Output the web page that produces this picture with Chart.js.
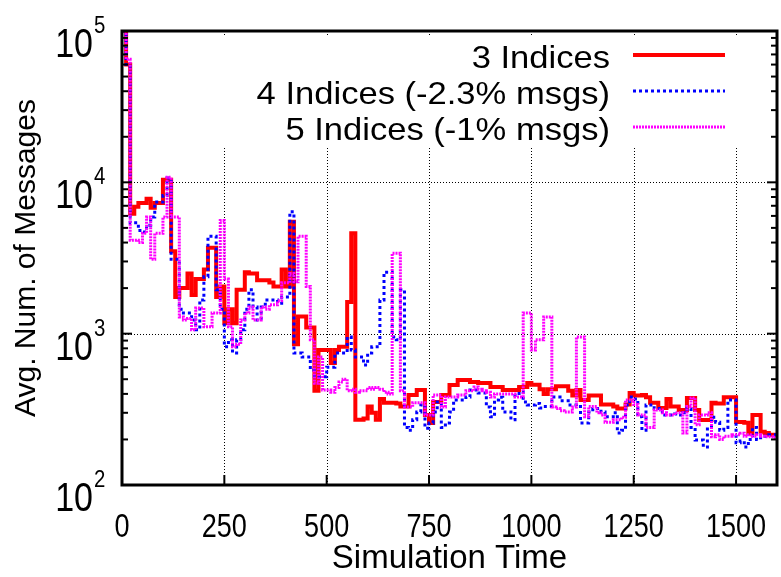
<!DOCTYPE html>
<html>
<head>
<meta charset="utf-8">
<script src="https://cdn.jsdelivr.net/npm/chart.js@4/dist/chart.umd.min.js"></script>
<style>
  html, body { margin: 0; padding: 0; background: #fff; }
  #wrap { width: 781px; height: 577px; }
</style>
</head>
<body>
<div id="wrap"><canvas id="c" width="781" height="577"></canvas></div>
<script>
// Sample times (start of each step)
const times = [
  0, 10, 20, 30, 40, 50, 60, 70, 80, 90,
  100, 110, 120, 130, 140, 150, 160, 170, 180, 190,
  200, 210, 220, 230, 240, 250, 260, 270, 280, 290,
  300, 310, 320, 330, 340, 350, 360, 370, 380, 390,
  400, 410, 420, 430, 440, 450, 460, 470, 480, 490,
  500, 510, 520, 530, 540, 550, 560, 570, 580, 590,
  600, 610, 620, 630, 640, 650, 660, 670, 680, 690,
  700, 710, 720, 730, 740, 750, 760, 770, 780, 790,
  800, 810, 820, 830, 840, 850, 860, 870, 880, 890,
  900, 910, 920, 930, 940, 950, 960, 970, 980, 990,
  1000, 1010, 1020, 1030, 1040, 1050, 1060, 1070, 1080, 1090,
  1100, 1110, 1120, 1130, 1140, 1150, 1160, 1170, 1180, 1190,
  1200, 1210, 1220, 1230, 1240, 1250, 1260, 1270, 1280, 1290,
  1300, 1310, 1320, 1330, 1340, 1350, 1360, 1370, 1380, 1390,
  1400, 1410, 1420, 1430, 1440, 1450, 1460, 1470, 1480, 1490,
  1500, 1510, 1520, 1530, 1540, 1550, 1560, 1570, 1580, 1590
];
const endTime = 1600;

// Average number of messages, 3 indices
const idx3 = [
  100000, 60000, 6200, 6900, 7300, 7300, 7800, 6800, 7300, 7300,
  10400, 10400, 3500, 1750, 2000, 2000, 2500, 1800, 2300, 2300,
  2650, 3700, 3700, 1750, 2050, 1170, 1450, 1170, 1950, 1950,
  2550, 2500, 2500, 2250, 2250, 2250, 2180, 2050, 2050, 2650,
  2050, 5500, 850, 1300, 1300, 1100, 1100, 420, 780, 780,
  780, 640, 780, 820, 820, 1620, 4600, 270, 270, 275,
  330, 300, 270, 370, 350, 350, 350, 345, 330, 330,
  393, 393, 425, 425, 290, 257, 354, 354, 393, 393,
  458, 458, 494, 494, 494, 480, 480, 472, 472, 472,
  444, 444, 444, 425, 425, 425, 425, 444, 444, 472,
  460, 460, 430, 400, 430, 430, 450, 450, 450, 420,
  390, 425, 365, 365, 390, 390, 390, 340, 340, 340,
  330, 320, 320, 340, 406, 390, 390, 393, 380, 350,
  350, 323, 323, 370, 330, 330, 313, 313, 376, 376,
  313, 269, 269, 269, 350, 345, 345, 380, 380, 380,
  261, 261, 258, 221, 290, 290, 225, 221, 215, 215
];

// Average number of messages, 4 indices
const idx4 = [
  100000, 60000, 5400, 5400, 4800, 4700, 5200, 5900, 7400, 7400,
  8200, 10700, 3100, 3100, 1450, 1370, 1370, 1230, 1060, 1670,
  2380, 4400, 4400, 1950, 1450, 820, 910, 745, 910, 1060,
  1450, 1950, 1500, 1230, 1500, 1670, 1670, 1670, 1590, 1750,
  1750, 6400, 745, 745, 700, 700, 576, 520, 520, 520,
  600, 600, 745, 745, 745, 950, 780, 700, 700, 620,
  745, 820, 820, 1670, 2550, 2550, 950, 910, 1950, 240,
  230, 270, 304, 338, 237, 257, 304, 354, 240, 257,
  304, 365, 365, 365, 381, 425, 425, 405, 405, 328,
  282, 365, 380, 304, 304, 270, 390, 412, 354, 338,
  338, 345, 323, 330, 330, 381, 381, 360, 360, 338,
  338, 330, 257, 257, 304, 320, 320, 304, 282, 282,
  300, 221, 230, 338, 381, 370, 282, 230, 338, 338,
  320, 320, 290, 290, 290, 295, 290, 300, 320, 240,
  198, 198, 178, 240, 280, 260, 230, 240, 365, 365,
  190, 195, 178, 200, 240, 200, 210, 210, 215, 215
];

// Average number of messages, 5 indices
const idx5 = [
  100000, 65000, 4150, 4150, 4000, 4600, 5900, 3100, 4600, 4600,
  5900, 10800, 5900, 5900, 1290, 1230, 1260, 1060, 1480, 1480,
  1110, 1110, 1370, 1370, 5600, 2300, 1110, 820, 850, 1230,
  1370, 1500, 1230, 1230, 1500, 1450, 1550, 1550, 1650, 2170,
  2170, 2500, 2200, 4400, 4400, 2050, 910, 470, 700, 425,
  425, 410, 440, 480, 500, 420, 430, 410, 420, 420,
  440, 430, 440, 430, 410, 400, 3400, 3400, 420, 328,
  328, 350, 350, 350, 290, 290, 393, 393, 328, 381,
  381, 381, 393, 393, 420, 420, 444, 430, 420, 410,
  381, 400, 400, 400, 400, 400, 381, 381, 1370, 1370,
  780, 910, 910, 1290, 1290, 328, 320, 310, 304, 304,
  328, 950, 950, 282, 330, 330, 300, 290, 260, 260,
  270, 270, 280, 365, 365, 340, 290, 290, 240, 240,
  313, 313, 300, 290, 290, 300, 300, 221, 330, 376,
  250, 290, 290, 300, 208, 215, 200, 210, 210, 215,
  215, 220, 210, 215, 210, 215, 210, 208, 208, 205
];

const seriesNames = ['3 Indices', '4 Indices (-2.3% msgs)', '5 Indices (-1% msgs)'];
const xTickValues = [0, 250, 500, 750, 1000, 1250, 1500];
const yDecades = [100, 1000, 10000, 100000];
const yExponents = ['2', '3', '4', '5'];

const FONT = '"Liberation Sans", Arial, Helvetica, sans-serif';

function toPoints(vals) {
  const pts = times.map((t, i) => ({ x: t, y: vals[i] }));
  pts.push({ x: endTime, y: vals[vals.length - 1] });
  return pts;
}

function drawText(ctx, text, x, y, size, sx, align) {
  ctx.save();
  ctx.font = size + 'px ' + FONT;
  ctx.textBaseline = 'alphabetic';
  ctx.textAlign = align;
  ctx.translate(x, y);
  ctx.scale(sx, 1);
  ctx.fillStyle = '#000';
  ctx.fillText(text, 0, 0);
  ctx.restore();
}

const styles = [
  { color: '#ff0000', width: 4, dash: [] },
  { color: '#0000ff', width: 3, dash: [3, 3] },
  { color: '#ff00ff', width: 3, dash: [2, 1] }
];

// Key box geometry
const legendBox = { left: 215, top: 36, right: 745, bottom: 148 };
const legendTextRight = 610;
const legendLine = { x0: 633, x1: 725 };
const legendRowY = [55, 91, 127];

const framePlugin = {
  id: 'frame',
  beforeDatasetsDraw(chart) {
    const { ctx, chartArea: a, scales: { x, y } } = chart;
    ctx.save();
    ctx.strokeStyle = '#000';
    ctx.lineWidth = 1;
    ctx.setLineDash([1, 2]);
    xTickValues.forEach(v => {
      if (v === 0) return;
      const px = Math.round(x.getPixelForValue(v)) + 0.5;
      ctx.beginPath(); ctx.moveTo(px, a.top); ctx.lineTo(px, a.bottom); ctx.stroke();
    });
    yDecades.forEach(v => {
      if (v === 100 || v === 100000) return;
      const py = Math.round(y.getPixelForValue(v)) + 0.5;
      ctx.beginPath(); ctx.moveTo(a.left, py); ctx.lineTo(a.right, py); ctx.stroke();
    });
    ctx.setLineDash([]);
    // key background
    ctx.fillStyle = '#fff';
    ctx.fillRect(legendBox.left, legendBox.top, legendBox.right - legendBox.left, legendBox.bottom - legendBox.top);
    ctx.restore();
  },
  afterDatasetsDraw(chart) {
    const { ctx, chartArea: a, scales: { x, y } } = chart;
    ctx.save();
    ctx.strokeStyle = '#000';
    // inward tick marks
    ctx.lineWidth = 2;
    xTickValues.forEach(v => {
      const px = x.getPixelForValue(v);
      ctx.beginPath(); ctx.moveTo(px, a.bottom); ctx.lineTo(px, a.bottom - 10); ctx.stroke();
    });
    for (let d = 0; d < yDecades.length; d++) {
      const base = yDecades[d];
      const py = y.getPixelForValue(base);
      ctx.beginPath(); ctx.moveTo(a.left, py); ctx.lineTo(a.left + 10, py); ctx.stroke();
      ctx.beginPath(); ctx.moveTo(a.right, py); ctx.lineTo(a.right - 10, py); ctx.stroke();
      if (base >= 100000) continue;
      for (let m = 2; m <= 9; m++) {
        const q = y.getPixelForValue(base * m);
        ctx.beginPath(); ctx.moveTo(a.left, q); ctx.lineTo(a.left + 6, q); ctx.stroke();
        ctx.beginPath(); ctx.moveTo(a.right, q); ctx.lineTo(a.right - 6, q); ctx.stroke();
      }
    }
    // plot border
    ctx.lineWidth = 3;
    ctx.strokeRect(a.left, a.top, a.right - a.left, a.bottom - a.top);

    // key
    seriesNames.forEach((name, i) => {
      drawText(ctx, name, legendTextRight, legendRowY[i] + 13, 32, 1.08, 'right');
      const s = styles[i];
      ctx.strokeStyle = s.color;
      ctx.lineWidth = s.width;
      ctx.setLineDash(s.dash);
      ctx.beginPath(); ctx.moveTo(legendLine.x0, legendRowY[i]); ctx.lineTo(legendLine.x1, legendRowY[i]); ctx.stroke();
      ctx.setLineDash([]);
    });

    // tick labels
    xTickValues.forEach(v => {
      drawText(ctx, String(v), x.getPixelForValue(v), 537, 33, 0.82, 'center');
    });
    yDecades.forEach((v, i) => {
      const py = y.getPixelForValue(v);
      drawText(ctx, '10', 93, py + 26, 40, 0.85, 'right');
      drawText(ctx, yExponents[i], 94, py + 2, 24, 0.85, 'left');
    });

    // axis titles
    drawText(ctx, 'Simulation Time', (a.left + a.right) / 2, 568, 33, 1.0, 'center');
    ctx.save();
    ctx.translate(35, (a.top + a.bottom) / 2);
    ctx.rotate(-Math.PI / 2);
    drawText(ctx, 'Avg. Num. of Messages', 0, 0, 30, 1.0, 'center');
    ctx.restore();
    ctx.restore();
  }
};

const datasets = [idx3, idx4, idx5].map((vals, i) => ({
  label: seriesNames[i],
  data: toPoints(vals),
  borderColor: styles[i].color,
  borderWidth: styles[i].width,
  borderDash: styles[i].dash,
  borderCapStyle: 'butt',
  borderJoinStyle: 'miter',
  stepped: true,
  pointRadius: 0,
  fill: false,
  order: 3 - i
}));

new Chart(document.getElementById('c'), {
  type: 'line',
  data: { datasets },
  options: {
    responsive: false,
    animation: false,
    devicePixelRatio: 1,
    layout: { padding: { left: 0, right: 4, top: 31, bottom: 0 } },
    plugins: { legend: { display: false }, tooltip: { enabled: false } },
    scales: {
      x: {
        type: 'linear', min: 0, max: 1600,
        ticks: { display: false },
        grid: { display: false },
        border: { display: false },
        afterFit(s) { s.height = 92; }
      },
      y: {
        type: 'logarithmic', min: 100, max: 100000,
        ticks: { display: false },
        grid: { display: false },
        border: { display: false },
        afterFit(s) { s.width = 122; }
      }
    }
  },
  plugins: [framePlugin]
});
</script>
</body>
</html>
